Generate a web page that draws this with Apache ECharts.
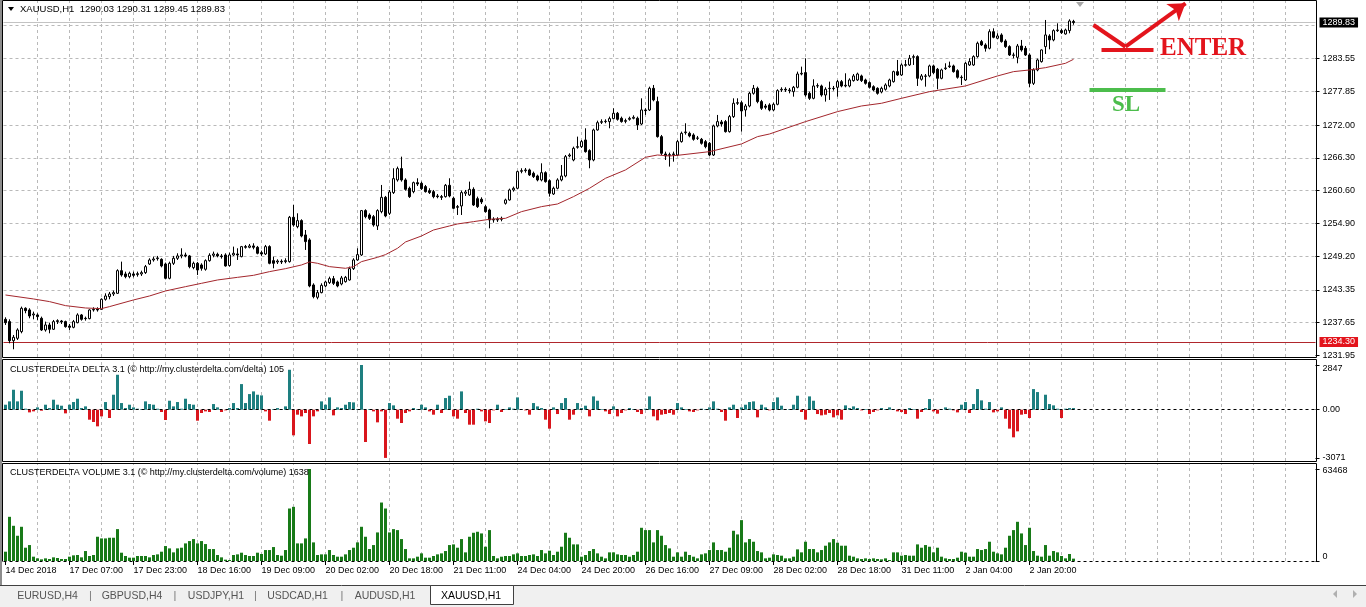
<!DOCTYPE html>
<html><head><meta charset="utf-8">
<script src="https://cdn.jsdelivr.net/npm/echarts@6/dist/echarts.min.js"></script>
<style>html,body{margin:0;padding:0;background:#fff;}#c{width:1366px;height:607px;}</style>
</head><body><div id="c"></div><script>
// ---------- data ----------
const opens=[1238.24,1237.84,1234.53,1234.94,1236.10,1240.16,1239.87,1239.00,1239.00,1238.42,
1236.39,1237.26,1236.51,1237.84,1237.95,1237.84,1237.08,1236.85,1237.66,1239.00,
1238.42,1238.36,1239.87,1239.98,1239.98,1241.72,1242.18,1242.65,1242.76,1246.70,
1246.13,1245.66,1246.13,1246.01,1246.13,1246.36,1247.86,1248.56,1248.79,1248.67,
1247.86,1245.37,1247.98,1248.85,1249.26,1249.43,1249.26,1247.23,1247.98,1247.69,
1246.94,1248.44,1249.37,1249.54,1249.26,1249.43,1247.60,1249.43,1249.60,1249.14,
1250.88,1250.76,1251.00,1250.76,1249.83,1249.60,1250.88,1248.44,1248.21,1248.33,
1248.27,1248.27,1255.98,1254.35,1255.40,1252.91,1252.04,1244.21,1242.07,1242.88,
1244.04,1244.62,1245.31,1244.73,1244.39,1244.79,1245.08,1247.05,1248.56,1249.43,
1257.14,1256.38,1256.09,1254.47,1256.96,1259.45,1256.67,1260.27,1262.47,1264.44,
1262.47,1261.02,1260.44,1262.00,1261.89,1261.31,1260.61,1260.44,1259.69,1259.57,
1259.57,1261.54,1259.28,1257.83,1257.95,1260.15,1259.86,1260.84,1259.22,1259.11,
1257.83,1257.25,1255.63,1255.51,1255.63,1258.41,1258.99,1260.73,1261.02,1263.97,
1264.09,1264.21,1263.63,1263.16,1262.47,1263.74,1262.35,1260.03,1261.02,1262.47,
1263.16,1266.64,1265.94,1268.15,1268.26,1269.42,1267.57,1265.94,1271.16,1272.49,
1272.61,1272.61,1273.13,1274.06,1273.19,1272.78,1273.01,1273.19,1273.19,1272.20,
1274.64,1274.64,1278.40,1276.09,1270.00,1266.99,1266.75,1266.87,1266.81,1269.13,
1270.70,1270.58,1270.29,1269.71,1269.54,1269.13,1268.84,1266.81,1271.86,1272.55,
1272.61,1270.87,1273.48,1275.80,1275.91,1274.64,1275.33,1277.53,1278.40,1276.09,
1275.33,1275.51,1274.64,1275.62,1278.11,1278.23,1278.11,1277.82,1278.58,1280.89,
1281.13,1277.53,1276.66,1278.81,1278.81,1277.24,1278.35,1278.40,1278.58,1279.56,
1278.81,1278.81,1279.74,1279.85,1280.55,1279.85,1279.39,1278.69,1278.40,1277.77,
1278.23,1278.81,1279.56,1281.30,1280.72,1282.40,1282.46,1283.79,1283.91,1279.97,
1280.55,1280.55,1282.29,1281.71,1280.14,1281.82,1282.17,1282.29,1281.47,1280.32,
1279.85,1282.46,1282.46,1283.91,1286.52,1285.94,1285.36,1288.25,1287.10,1287.68,
1286.63,1285.65,1284.20,1283.79,1285.76,1285.36,1284.20,1279.27,1281.59,1283.04,
1285.65,1287.50,1286.81,1288.43,1288.43,1287.85,1288.43,1290.03];
const closes=[1237.66,1234.53,1235.11,1236.39,1240.16,1239.75,1238.82,1239.17,1238.71,1236.39,
1237.26,1236.51,1237.84,1238.01,1237.78,1236.97,1236.85,1237.84,1239.00,1238.24,
1238.36,1239.87,1239.98,1239.87,1241.72,1242.30,1242.65,1242.88,1246.70,1245.95,
1245.66,1246.24,1245.89,1246.18,1246.36,1247.40,1248.56,1248.73,1248.91,1247.52,
1245.37,1247.98,1248.85,1249.26,1249.43,1249.26,1247.40,1247.98,1246.82,1247.11,
1248.44,1249.37,1249.60,1249.26,1249.14,1247.52,1249.43,1249.72,1249.43,1250.88,
1250.76,1251.00,1250.76,1249.72,1249.60,1250.88,1247.98,1247.98,1248.38,1248.21,
1248.44,1255.98,1254.64,1255.40,1252.73,1251.75,1244.04,1242.18,1242.88,1244.15,
1244.73,1245.31,1244.50,1244.04,1245.43,1245.54,1247.05,1248.56,1249.49,1257.14,
1256.09,1255.80,1254.64,1257.14,1259.45,1256.21,1260.38,1262.70,1264.44,1262.47,
1260.84,1259.57,1262.00,1261.77,1260.96,1260.44,1260.27,1259.57,1259.57,1259.45,
1261.54,1259.69,1257.54,1257.72,1260.27,1260.38,1260.84,1258.12,1257.83,1258.64,
1256.96,1255.51,1255.51,1255.63,1255.80,1258.99,1260.73,1261.02,1263.92,1264.09,
1264.21,1263.34,1263.05,1262.47,1263.74,1262.18,1260.15,1261.02,1262.47,1263.16,
1266.52,1266.81,1267.97,1268.26,1269.13,1267.39,1265.94,1271.16,1272.43,1272.61,
1272.67,1273.13,1274.06,1273.01,1272.61,1272.67,1273.19,1273.36,1272.03,1274.64,
1274.52,1278.40,1276.38,1270.00,1267.10,1266.64,1266.87,1266.99,1269.13,1270.58,
1270.81,1270.12,1269.54,1269.77,1268.84,1268.26,1266.81,1271.86,1272.61,1272.20,
1270.87,1273.48,1275.80,1275.91,1274.46,1275.33,1277.53,1278.40,1276.09,1274.93,
1275.10,1274.64,1275.62,1278.00,1278.23,1278.11,1278.00,1278.58,1280.89,1281.01,
1277.24,1276.66,1278.81,1278.87,1277.24,1278.23,1278.40,1278.35,1279.56,1278.81,
1278.93,1279.85,1280.55,1280.89,1279.74,1279.27,1278.58,1278.11,1277.53,1278.40,
1278.98,1279.85,1281.30,1280.72,1282.46,1282.52,1283.62,1283.91,1280.14,1280.55,
1280.49,1282.29,1281.13,1280.14,1281.59,1281.94,1282.29,1281.30,1280.32,1280.26,
1282.75,1283.04,1283.91,1286.23,1285.94,1285.36,1288.25,1287.27,1287.50,1286.52,
1285.65,1284.20,1284.14,1285.76,1285.07,1284.20,1279.27,1281.59,1283.33,1285.07,
1287.68,1286.81,1288.43,1288.54,1288.08,1288.54,1290.11,1289.83];
const lows=[1237.26,1234.07,1233.03,1234.65,1235.81,1239.29,1238.42,1238.24,1238.13,1236.22,
1236.10,1235.81,1236.39,1237.43,1237.43,1236.79,1236.39,1236.68,1237.55,1238.01,
1238.01,1238.24,1239.58,1239.58,1239.87,1241.49,1241.72,1242.30,1242.65,1245.66,
1245.37,1245.37,1245.54,1245.66,1245.78,1246.13,1247.69,1248.27,1248.44,1247.28,
1245.20,1245.20,1247.69,1248.56,1248.85,1249.02,1247.11,1246.94,1245.95,1246.70,
1246.70,1248.27,1249.02,1249.02,1248.79,1247.40,1247.40,1249.26,1248.56,1249.02,
1250.53,1250.59,1250.41,1249.54,1249.26,1249.43,1247.81,1247.11,1247.86,1247.86,
1247.98,1248.10,1254.35,1254.06,1252.50,1250.30,1243.81,1241.89,1241.72,1242.76,
1243.81,1244.39,1244.21,1243.81,1244.15,1244.62,1244.97,1246.82,1248.44,1249.26,
1255.80,1255.51,1254.35,1253.77,1256.67,1255.98,1256.38,1260.03,1262.18,1262.18,
1260.61,1259.34,1260.15,1261.42,1260.73,1260.27,1260.03,1259.28,1259.28,1258.99,
1259.40,1259.45,1257.37,1256.38,1256.38,1259.69,1259.69,1257.95,1257.60,1258.29,
1256.79,1254.06,1255.05,1255.17,1255.28,1258.18,1258.87,1260.44,1260.84,1263.63,
1263.74,1263.16,1262.81,1262.23,1262.23,1262.00,1259.57,1259.86,1260.84,1262.23,
1262.93,1266.41,1265.71,1267.91,1268.03,1267.22,1264.50,1265.71,1271.04,1272.20,
1272.32,1271.45,1273.01,1272.78,1272.43,1272.32,1272.78,1273.01,1271.16,1272.03,
1273.77,1274.46,1276.14,1269.83,1266.81,1265.94,1264.79,1265.65,1266.64,1268.96,
1270.35,1269.88,1269.30,1269.42,1268.61,1267.97,1266.64,1266.64,1271.62,1271.74,
1270.70,1270.70,1273.25,1275.51,1270.87,1273.48,1275.10,1277.30,1275.80,1274.64,
1274.75,1274.40,1274.40,1275.45,1277.77,1277.77,1277.53,1276.95,1278.40,1280.66,
1276.95,1276.38,1276.49,1278.46,1276.95,1276.09,1276.38,1278.00,1276.95,1278.58,
1278.58,1278.58,1279.56,1279.68,1279.50,1279.04,1278.35,1277.88,1277.30,1277.53,
1278.00,1278.58,1279.39,1280.55,1280.55,1282.17,1282.29,1282.46,1278.81,1279.74,
1278.69,1280.32,1280.89,1278.23,1279.97,1281.59,1281.94,1281.13,1280.08,1278.98,
1279.68,1282.29,1282.29,1283.73,1285.76,1284.78,1285.18,1287.10,1286.92,1286.34,
1285.42,1284.02,1283.62,1282.75,1284.78,1284.02,1278.58,1278.98,1281.36,1282.87,
1284.37,1285.18,1286.57,1288.20,1287.85,1287.73,1287.97,1289.45];
const highs=[1238.59,1238.24,1235.52,1236.68,1240.45,1240.33,1240.16,1239.58,1239.29,1238.71,
1237.84,1237.66,1238.13,1238.24,1238.13,1238.01,1237.43,1238.13,1239.29,1239.17,
1238.71,1239.98,1240.33,1240.33,1241.89,1242.76,1243.00,1243.23,1246.94,1248.27,
1246.53,1246.53,1246.53,1246.53,1246.70,1247.69,1248.85,1249.14,1249.26,1248.85,
1248.10,1248.27,1249.26,1249.72,1250.59,1249.83,1249.43,1248.27,1248.21,1247.98,
1248.67,1249.72,1250.01,1249.83,1249.60,1249.72,1249.83,1250.88,1250.59,1251.00,
1251.17,1251.34,1251.46,1251.00,1250.18,1251.17,1251.11,1249.14,1248.67,1248.67,
1248.85,1256.21,1258.12,1256.67,1255.63,1253.77,1252.33,1244.50,1243.34,1244.50,
1244.97,1245.66,1245.78,1244.97,1245.78,1245.78,1247.40,1248.85,1250.59,1257.25,
1257.37,1256.67,1256.38,1257.37,1261.60,1259.69,1260.73,1264.50,1264.79,1266.52,
1262.76,1261.31,1262.18,1262.76,1262.18,1261.60,1261.02,1260.73,1260.03,1259.86,
1261.77,1262.76,1259.57,1258.12,1260.61,1260.73,1262.18,1261.19,1259.57,1259.45,
1258.12,1257.48,1255.98,1255.98,1256.09,1259.22,1260.96,1261.31,1264.09,1264.50,
1264.55,1264.44,1263.92,1263.39,1265.36,1263.97,1262.58,1261.31,1262.76,1265.07,
1266.81,1267.10,1268.26,1270.00,1269.42,1271.45,1267.80,1271.39,1272.78,1273.01,
1273.01,1273.48,1274.93,1274.29,1273.48,1273.13,1273.48,1273.71,1273.48,1276.66,
1274.93,1278.69,1278.98,1276.95,1270.29,1267.39,1267.22,1267.39,1269.42,1270.87,
1272.32,1270.87,1270.58,1270.12,1269.77,1269.42,1269.07,1272.09,1273.77,1272.90,
1272.90,1273.77,1276.66,1276.66,1276.26,1275.68,1277.77,1278.98,1278.69,1276.38,
1275.68,1275.80,1275.91,1278.23,1278.58,1278.58,1278.46,1278.81,1281.30,1282.17,
1283.62,1277.82,1279.97,1279.27,1279.04,1278.58,1279.56,1278.81,1279.85,1279.85,
1281.01,1280.14,1280.89,1281.13,1280.78,1280.08,1279.62,1278.93,1278.58,1278.69,
1279.27,1280.08,1281.47,1283.33,1282.75,1283.33,1284.20,1284.26,1284.14,1280.89,
1280.89,1282.52,1282.52,1281.94,1281.82,1282.75,1283.04,1282.52,1281.71,1280.66,
1282.98,1283.62,1284.14,1286.52,1286.81,1286.23,1288.66,1288.83,1287.97,1287.97,
1286.92,1285.88,1284.60,1286.11,1286.81,1285.76,1284.49,1281.88,1283.56,1285.18,
1290.28,1287.80,1288.66,1289.70,1288.78,1288.78,1290.40,1290.31];
const maBars=[0,7,11,15,20,24,26,32,36,40,45,49,53,58,62,66,70,74,76,78,81,85,87,89,93,95,98,100,104,107,111,113,117,121,125,129,134,138,142,146,150,155,160,163,166,168,176,184,188,191,200,208,214,219,224,231,240,248,252,256,260,265,267];
const maValues=[1242.47,1241.78,1241.32,1240.62,1240.21,1240.10,1240.45,1241.61,1242.30,1243.17,1243.92,1244.50,1245.08,1245.54,1245.89,1246.53,1247.05,1247.69,1248.21,1247.98,1247.40,1247.11,1247.40,1248.27,1249.02,1249.49,1250.59,1251.69,1252.73,1253.77,1254.47,1254.82,1255.22,1255.63,1255.80,1256.96,1257.83,1258.29,1259.57,1261.02,1262.76,1264.21,1266.41,1266.81,1266.64,1266.75,1267.39,1268.73,1270.00,1270.46,1272.61,1274.35,1275.33,1275.80,1276.66,1277.82,1278.81,1280.55,1281.30,1281.59,1281.99,1282.75,1283.44];
const deltaValues=[318,530,1272,530,1208,64,-170,-106,148,-64,
318,106,636,318,254,-233,318,488,700,106,
212,-636,-784,-1060,-424,488,-530,954,2226,424,
106,318,148,64,42,530,360,318,64,-148,
-657,572,212,488,64,700,360,318,-700,-212,
-106,-148,360,148,-148,-42,106,424,106,1632,
424,996,1166,954,912,-106,-700,42,106,42,
212,2544,-1632,-318,-424,-212,-2184,-424,-106,530,
318,784,-360,148,106,318,488,466,42,2847,
-2056,42,-106,-806,-106,-3071,424,276,-572,-848,
-212,-106,106,42,318,148,-106,-318,318,-212,
742,890,-424,-572,1166,-212,-954,-954,64,-106,
-742,-848,-42,318,-148,42,148,64,784,42,
-42,-318,424,212,106,-636,-1208,148,-276,424,
742,-636,-318,424,106,254,-424,848,572,42,
-106,-276,212,-424,-212,-42,106,42,-148,-276,
64,848,-424,-678,-318,-276,-212,-318,424,148,
42,-106,-148,-42,64,42,148,530,64,-148,
-700,148,318,-530,148,318,488,530,-488,318,
148,-42,488,784,254,42,42,318,890,-148,
-636,848,572,-276,-360,-318,-212,-488,-360,-636,
276,106,212,106,-42,42,-276,-148,-42,106,
42,148,42,-106,-148,-276,106,42,-572,-148,
106,678,-106,-254,42,148,64,-42,-170,318,
488,-212,360,1314,594,64,488,-170,-106,148,
-572,-1208,-1760,-1378,-318,-276,-530,1314,1124,42,
954,360,276,64,-530,64,106,105];
const volumeValues=[6418,30484,24295,17419,23608,9168,11002,2980,1834,1146,
1834,1375,2521,2063,1375,1375,2980,3896,4126,2521,
6876,3438,4126,16732,15586,15586,16044,16044,22003,5730,
3438,2292,2292,3438,3438,3438,2521,4126,4584,6418,
10314,8710,5959,8710,9168,12148,13752,15127,12148,13752,
11689,8251,8251,4126,2521,917,688,4126,4584,5730,
4126,3438,3438,5730,4813,7564,7564,9626,4126,3667,
7564,36214,37360,12148,12148,15586,63468,12835,4126,4584,
4584,7564,4126,2980,2980,4584,7564,9168,12835,23608,
16732,8251,11002,19711,40339,36214,19711,22003,21316,15127,
8251,1834,1834,2980,5272,2292,2292,3438,4584,5272,
6876,11002,11460,9168,15127,5959,16732,19482,20170,19024,
9856,21316,3438,1834,2980,3438,3438,4584,5272,3438,
3438,4126,4584,3438,7564,5272,7105,4126,6418,9856,
19482,16044,11460,11460,2980,4126,6876,8251,5272,2980,
1834,5959,5959,4584,4126,4126,2980,4126,6418,22920,
21316,21316,12835,21316,17419,11002,8710,2980,5959,2980,
6418,4126,2980,1834,4584,5272,7564,12835,7564,7564,
6418,9168,20857,18336,28192,12835,15127,13294,6876,5959,
1834,2292,4584,4126,3667,1834,1834,2980,8022,5959,
13294,8251,8251,5959,7564,10543,12835,15127,12606,10543,
10543,3667,2980,1834,1375,1834,1375,1834,1375,1146,
1834,688,5959,5959,3667,4126,3667,3667,11460,9168,
11002,9856,5959,9168,2980,1834,1375,1375,2292,6418,
5730,2980,2980,8251,7564,8251,13294,6418,5272,4584,
9168,17419,21316,27046,19024,11002,22920,6876,3667,2980,
11002,3667,6876,5959,3438,1834,4813,1638];
const timeLabels=['14 Dec 2018','17 Dec 07:00','17 Dec 23:00','18 Dec 16:00','19 Dec 09:00','20 Dec 02:00','20 Dec 18:00','21 Dec 11:00','24 Dec 04:00','24 Dec 20:00','26 Dec 16:00','27 Dec 09:00','28 Dec 02:00','28 Dec 18:00','31 Dec 11:00','2 Jan 04:00','2 Jan 20:00'];
const priceTicks=[1231.95,1237.65,1243.35,1249.20,1254.90,1260.60,1266.30,1272.00,1277.85,1283.55];
const priceGrid=[1237.65,1243.35,1249.20,1254.90,1260.60,1266.30,1272.00,1277.85,1283.55,1289.41];
const lastPrice=1289.83, levelLine=1234.30;
const deltaTicks=[2847,0,-3071];
const volumeTicks=[63468,0];
const tabs=['EURUSD,H4','GBPUSD,H4','USDJPY,H1','USDCAD,H1','AUDUSD,H1','XAUUSD,H1'];
// annotation drawn on the chart (bar index, price)
const enterPath=[[272,1289.41],[280,1285.63],[295,1293.18]];
const enterBar=[[274,1285.18],[287,1285.18]];
const slBar=[[271,1278.11],[290,1278.11]];

// ---------- build ----------
const SLOTS=328, LABEL_STEP=16, GRID_STEP=8;
const cats=[]; for(let i=0;i<SLOTS;i++) cats.push(String(i));
const candles=opens.map((o,i)=>[o,closes[i],lows[i],highs[i]]);
const vGrid=[]; for(let i=GRID_STEP;i<SLOTS-4;i+=GRID_STEP) vGrid.push({xAxis:i});
const FONT='Liberation Sans';
const gridDash={color:'#b9b9b9',type:[3,3],width:1};
const RED='#e3141c', GREEN='#4cbd4c';

function xAx(k, show){
  const ax={type:'category',gridIndex:k,data:cats,boundaryGap:true,show:show,
    axisLine:{show:false},splitLine:{show:false}};
  if(show){
    const f=(idx)=> idx%LABEL_STEP===0 && idx/LABEL_STEP<timeLabels.length;
    ax.axisTick={show:true,alignWithLabel:true,interval:f,length:4,lineStyle:{color:'#000'}};
    ax.axisLabel={interval:f,align:'left',margin:5,fontSize:9,fontFamily:FONT,color:'#000',
      formatter:(v,idx)=>timeLabels[idx/LABEL_STEP]||''};
  }
  return ax;
}
function yAx(k,min,max,ticks,fmt,rich){
  return {type:'value',gridIndex:k,position:'right',min:min,max:max,
    axisLine:{show:false},splitLine:{show:false},
    axisTick:{show:true,customValues:ticks,length:4,lineStyle:{color:'#000'}},
    axisLabel:{customValues:ticks,formatter:fmt,margin:7,fontSize:9,fontFamily:FONT,color:'#000',rich:rich||{}}};
}
const richShift={dn:{fontSize:9,fontFamily:FONT,color:'#000',padding:[7,0,0,0]},
                 dn2:{fontSize:9,fontFamily:FONT,color:'#000',padding:[4,0,0,0]},
                 up:{fontSize:9,fontFamily:FONT,color:'#000',padding:[0,0,8,0]}};
function gridHost(k, extra){
  return {type:'line',xAxisIndex:k,yAxisIndex:k,data:[],silent:true,z:1,
    markLine:{z:1,silent:true,symbol:['none','none'],label:{show:false},lineStyle:gridDash,
      data:vGrid.concat(extra)}};
}

const option={
  animation:false,
  backgroundColor:'#fff',
  textStyle:{fontFamily:FONT},
  grid:[
    {left:3.5,top:1,width:1312,height:356},
    {left:3.5,top:360,width:1312,height:101},
    {left:3.5,top:464,width:1312,height:97}
  ],
  xAxis:[xAx(0,false),xAx(1,false),xAx(2,true)],
  yAxis:[
    yAx(0,1231.69,1293.58,priceTicks,v=>v.toFixed(2)),
    yAx(1,-3268,3166,deltaTicks,v=>v===0?'0.00':(v>0?'{dn|'+v+'}':String(v)),richShift),
    yAx(2,0,66920,volumeTicks,v=>v>0?'{dn2|'+v+'}':'{up|'+v+'}',richShift)
  ],
  series:[
    gridHost(0, priceGrid.map(p=>({yAxis:p}))),
    gridHost(1, []),
    gridHost(2, []),
    {type:'candlestick',xAxisIndex:0,yAxisIndex:0,data:candles,barWidth:2,z:2,
      itemStyle:{color:'#fff',color0:'#000',borderColor:'#000',borderColor0:'#000',borderColorDoji:'#000',borderWidth:1},
      markLine:{z:1.5,silent:true,symbol:['none','none'],
        data:[
          {yAxis:lastPrice,lineStyle:{color:'#c3c3c3',type:'solid',width:1},
            label:{show:true,position:'end',distance:4,formatter:lastPrice.toFixed(2),backgroundColor:'#000',color:'#fff',padding:[1,3,0,3],fontSize:9,fontFamily:FONT}},
          {yAxis:levelLine,lineStyle:{color:'#b0262c',type:'solid',width:1},
            label:{show:true,position:'end',distance:4,formatter:levelLine.toFixed(2),backgroundColor:RED,color:'#fff',padding:[1,3,0,3],fontSize:9,fontFamily:FONT}}
        ]}},
    {type:'line',name:'MA',xAxisIndex:0,yAxisIndex:0,data:maBars.map((b,k)=>[b,maValues[k]]),
      showSymbol:false,symbol:'none',lineStyle:{color:'#a3262c',width:1},z:3,silent:true},
    {type:'line',xAxisIndex:0,yAxisIndex:0,data:[],silent:true,z:5,clip:false,
      markLine:{z:6,silent:true,symbol:['none','none'],label:{show:false},
        data:[
          [{coord:enterPath[0],lineStyle:{color:RED,width:4,type:'solid'}},{coord:enterPath[1]}],
          [{coord:enterPath[1],lineStyle:{color:RED,width:4,type:'solid'}},{coord:enterPath[2],symbol:'arrow',symbolSize:16}],
          [{coord:enterBar[0],lineStyle:{color:RED,width:4,type:'solid'}},{coord:enterBar[1]}],
          [{coord:slBar[0],lineStyle:{color:GREEN,width:4,type:'solid'}},{coord:slBar[1]}]
        ]}},
    {type:'bar',xAxisIndex:1,yAxisIndex:1,data:deltaValues,barWidth:3,clip:false,z:2,
      itemStyle:{color:p=>p.value>=0?'#1e7f80':'#d9161d'},
      markLine:{z:3,silent:true,symbol:['none','none'],label:{show:false},
        data:[{yAxis:0,lineStyle:{color:'#000',type:[3,3],width:1}}]}},
    {type:'bar',xAxisIndex:2,yAxisIndex:2,data:volumeValues,barWidth:3,clip:false,z:2,
      itemStyle:{color:'#187a18'},
      markLine:{z:3,silent:true,symbol:['none','none'],label:{show:false},
        data:[{yAxis:0,lineStyle:{color:'#000',type:[3,3],width:1}}]}}
  ],
  graphic:[
    {type:'rect',silent:true,z:100,shape:{x:0,y:0,width:2,height:585},style:{fill:'#8c8c8c'}},
    {type:'rect',silent:true,z:100,shape:{x:2.5,y:0.5,width:1314,height:357},style:{fill:'none',stroke:'#000',lineWidth:1}},
    {type:'rect',silent:true,z:100,shape:{x:2.5,y:359.5,width:1314,height:102},style:{fill:'none',stroke:'#000',lineWidth:1}},
    {type:'polyline',silent:true,z:100,shape:{points:[[2.5,561.5],[2.5,463.5],[1316.5,463.5],[1316.5,561.5]]},style:{fill:'none',stroke:'#000',lineWidth:1}},
    {type:'polygon',silent:true,z:100,shape:{points:[[8,7],[14,7],[11,11]]},style:{fill:'#000'}},
    {type:'text',silent:true,z:100,x:20,y:9.5,style:{text:'XAUUSD,H1  1290.03 1290.31 1289.45 1289.83',fill:'#000',font:'9.5px "Liberation Sans"',verticalAlign:'middle'}},
    {type:'polygon',silent:true,z:100,shape:{points:[[1076,2],[1084,2],[1080,7]]},style:{fill:'#a8a8a8'}},
    {type:'text',silent:true,z:100,x:10,y:369.5,style:{text:'CLUSTERDELTA DELTA 3.1 (\u00a9 http://my.clusterdelta.com/delta) 105',fill:'#000',font:'9px "Liberation Sans"',verticalAlign:'middle'}},
    {type:'text',silent:true,z:100,x:10,y:473,style:{text:'CLUSTERDELTA VOLUME 3.1 (\u00a9 http://my.clusterdelta.com/volume) 1638',fill:'#000',font:'9px "Liberation Sans"',verticalAlign:'middle'}},
    {type:'text',silent:true,z:100,x:1160,y:49,style:{text:'ENTER',fill:RED,font:'bold 25px "Liberation Serif"',verticalAlign:'middle'}},
    {type:'text',silent:true,z:100,x:1112,y:105,style:{text:'SL',fill:GREEN,font:'bold 23px "Liberation Serif"',verticalAlign:'middle'}},
    // tab bar
    {type:'rect',silent:true,z:90,shape:{x:0,y:585,width:1366,height:22},style:{fill:'#f0f0f0'}},
    {type:'line',silent:true,z:91,shape:{x1:0,y1:585.5,x2:1366,y2:585.5},style:{stroke:'#404040',lineWidth:1}},
    {type:'rect',silent:true,z:92,shape:{x:430.5,y:585.5,width:83,height:19},style:{fill:'#fff',stroke:'#404040',lineWidth:1}},
    {type:'text',silent:true,z:93,x:47.5,y:596,style:{text:tabs[0],fill:'#555',font:'10.5px "Liberation Sans"',align:'center',verticalAlign:'middle'}},
    {type:'text',silent:true,z:93,x:132,y:596,style:{text:tabs[1],fill:'#555',font:'10.5px "Liberation Sans"',align:'center',verticalAlign:'middle'}},
    {type:'text',silent:true,z:93,x:216,y:596,style:{text:tabs[2],fill:'#555',font:'10.5px "Liberation Sans"',align:'center',verticalAlign:'middle'}},
    {type:'text',silent:true,z:93,x:297.5,y:596,style:{text:tabs[3],fill:'#555',font:'10.5px "Liberation Sans"',align:'center',verticalAlign:'middle'}},
    {type:'text',silent:true,z:93,x:385,y:596,style:{text:tabs[4],fill:'#555',font:'10.5px "Liberation Sans"',align:'center',verticalAlign:'middle'}},
    {type:'text',silent:true,z:93,x:471,y:596,style:{text:tabs[5],fill:'#000',font:'10.5px "Liberation Sans"',align:'center',verticalAlign:'middle'}},
    {type:'text',silent:true,z:93,x:90.5,y:596,style:{text:'|',fill:'#777',font:'11px "Liberation Sans"',align:'center',verticalAlign:'middle'}},
    {type:'text',silent:true,z:93,x:175,y:596,style:{text:'|',fill:'#777',font:'11px "Liberation Sans"',align:'center',verticalAlign:'middle'}},
    {type:'text',silent:true,z:93,x:255.5,y:596,style:{text:'|',fill:'#777',font:'11px "Liberation Sans"',align:'center',verticalAlign:'middle'}},
    {type:'text',silent:true,z:93,x:342,y:596,style:{text:'|',fill:'#777',font:'11px "Liberation Sans"',align:'center',verticalAlign:'middle'}},
    {type:'polygon',silent:true,z:93,shape:{points:[[1337,590],[1337,598],[1333,594]]},style:{fill:'#b0b0b0'}},
    {type:'polygon',silent:true,z:93,shape:{points:[[1353,590],[1353,598],[1357,594]]},style:{fill:'#b0b0b0'}}
  ]
};
const chart=echarts.init(document.getElementById('c'),null,{renderer:'canvas'});
chart.setOption(option);
</script></body></html>
